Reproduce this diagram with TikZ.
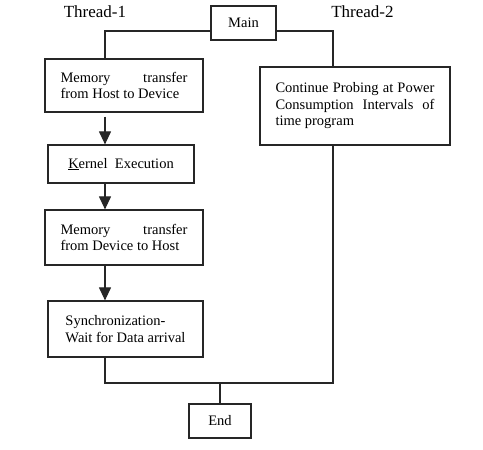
\documentclass[tikz,border=0pt]{standalone}
\usepackage{fontspec}
\setmainfont{Liberation Serif}
\usetikzlibrary{arrows.meta}
\tikzstyle{box} = [rectangle, draw=black!85, line width=1.2pt, inner sep=0pt, font=\fontsize{14.5}{16.5}\selectfont]
\tikzstyle{label} = [inner sep=0pt, font=\fontsize{17}{19}\selectfont]
\tikzstyle{line} = [draw=black!85, line width=1.1pt]
\tikzstyle{arrow} = [line, -{Triangle[width=12pt,length=13pt]}]

\begin{document}
\begin{tikzpicture}[x=1pt, y=-1pt]
\useasboundingbox (0,0) rectangle (483,450);
\node (main) [box, minimum width=65pt, minimum height=34pt] at (243.5,23) {Main};
\node (t1) [label] at (95,12) {Thread-1};
\node (t2) [label] at (362.5,12) {Thread-2};

\node (mem1) [box, minimum width=158pt, minimum height=53pt, text width=127pt, align=justify] at (124,85.5) {Memory transfer\linebreak from Host to Device};
\node (kern) [box, minimum width=146pt, minimum height=38pt] at (121,164) {\underline{K}ernel\ \ Execution};
\node (mem2) [box, minimum width=158pt, minimum height=55pt, text width=127pt, align=justify] at (124,237.5) {Memory transfer\linebreak from Device to Host};
\node (sync) [box, minimum width=155pt, minimum height=56pt, align=left] at (125.5,329) {Synchronization-\\Wait for Data arrival};

\node (probe) [box, minimum width=190pt, minimum height=78pt, text width=159pt, align=justify] at (355,106) {Continue Probing at Power\linebreak Consumption Intervals of\linebreak time program};

\node (end) [box, minimum width=62pt, minimum height=34pt] at (220,421) {End};

% lanes
\coordinate (lane) at (105,0);
\coordinate (rlane) at (333,0);
\coordinate (join) at (220,383);

\draw [line] ([yshift=-8pt]main.west) -| (mem1.north -| lane);
\draw [line] ([yshift=-8pt]main.east) -| (probe.north -| rlane);

\draw [arrow, shorten <=4pt] (mem1.south -| lane) -- (kern.north -| lane);
\draw [arrow] (kern.south -| lane) -- (mem2.north -| lane);
\draw [arrow] (mem2.south -| lane) -- (sync.north -| lane);

\draw [line] (sync.south -| lane) |- (join) -| (probe.south -| rlane);
\draw [line] (join) -- (end);

\end{tikzpicture}
\end{document}
